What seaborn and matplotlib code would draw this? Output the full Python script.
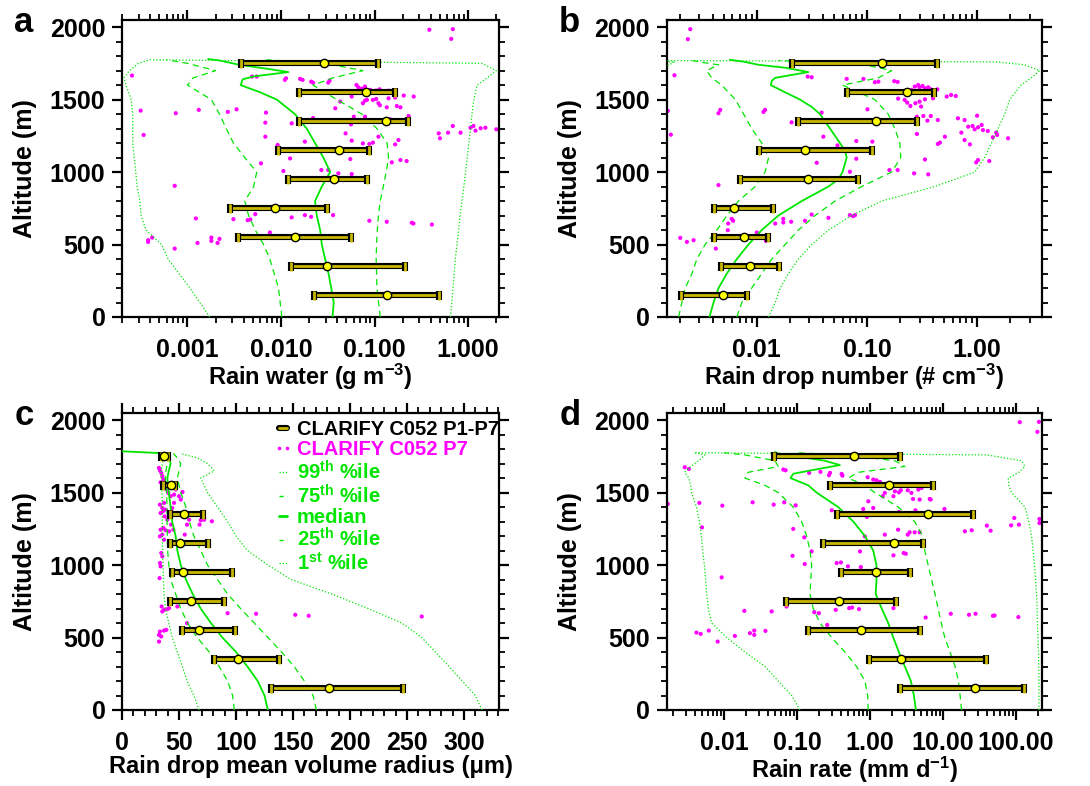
import numpy as np
import pandas as pd
import seaborn as sns
import matplotlib.pyplot as plt
import matplotlib.patheffects as pe
from matplotlib.lines import Line2D
from matplotlib.ticker import FixedLocator, MultipleLocator, FormatStrFormatter, LogLocator, NullFormatter

# ---- binned aircraft data (CLARIFY C052 P1-P7): 25th / median / 75th per altitude bin
bin_alt = [150, 350, 550, 750, 950, 1150, 1350, 1550, 1750]

rw_lo = [0.0224, 0.0128, 0.00346, 0.00286, 0.0120, 0.0092, 0.0157, 0.0157, 0.0037]
rw_mid = [0.1346, 0.0313, 0.0140, 0.00855, 0.037, 0.0415, 0.133, 0.080, 0.0289]
rw_hi = [0.486, 0.209, 0.0562, 0.0311, 0.0828, 0.0877, 0.226, 0.164, 0.110]

nd_lo = [0.00206, 0.00472, 0.00413, 0.00405, 0.00711, 0.0104, 0.0239, 0.0655, 0.0207]
nd_mid = [0.00489, 0.0087, 0.00768, 0.00623, 0.029, 0.0274, 0.121, 0.232, 0.138]
nd_hi = [0.00817, 0.016, 0.0126, 0.0141, 0.0834, 0.112, 0.286, 0.408, 0.43]

rv_lo = [130.9, 80.9, 52.9, 41.8, 44.1, 41.8, 41.8, 36.2, 34.0]
rv_mid = [181.8, 101.8, 67.9, 60.3, 53.8, 50.9, 54.4, 42.6, 37.0]
rv_hi = [246.8, 137.6, 99.1, 89.7, 96.2, 75.0, 70.6, 46.2, 40.0]

rr_lo = [2.58, 0.968, 0.140, 0.0706, 0.401, 0.230, 0.349, 0.283, 0.0489]
rr_mid = [27.4, 2.66, 0.753, 0.376, 1.20, 2.13, 6.17, 1.84, 0.604]
rr_hi = [129, 38.4, 4.84, 2.25, 3.53, 5.26, 26.1, 7.21, 2.58]

# ---- model percentile profiles
rw_med_alt = [0, 100, 200, 300, 400, 500, 600, 700, 800, 900, 1000, 1100, 1200,
              1300, 1400, 1500, 1550, 1600, 1640, 1660, 1690, 1710, 1740, 1770, 1780]
rw_med = [0.0355, 0.0366, 0.0344, 0.0322, 0.0296, 0.0273, 0.0262, 0.0241, 0.0231,
          0.0273, 0.0335, 0.0284, 0.0231, 0.0188, 0.0141, 0.0090, 0.0060, 0.0037,
          0.0039, 0.0051, 0.012, 0.0076, 0.0036, 0.0022, 0.00166]
rw_pct_alt = [0, 200, 400, 500, 600, 700, 800, 900, 1000, 1100, 1200, 1300, 1400,
              1500, 1600, 1650, 1700, 1750, 1775]
rw_p01 = [0.00173, 0.00106, 0.00062, 0.00053, 0.00036, 0.00032, 0.00031, 0.00029,
          0.00028, 0.00027, 0.00026, 0.00026, 0.00026, 0.00025, 0.00022, 0.00021,
          0.00024, 0.0003, 0.0004]
rw_p25 = [0.0102, 0.0094, 0.0076, 0.0065, 0.0053, 0.0045, 0.0041, 0.0051, 0.0055,
          0.0041, 0.0031, 0.0026, 0.0022, 0.0018, 0.0010, 0.00115, 0.0020, 0.0010, 0.0006]
rw_p75 = [0.115, 0.106, 0.104, 0.105, 0.107, 0.110, 0.115, 0.124, 0.133, 0.141,
          0.136, 0.106, 0.073, 0.0395, 0.022, 0.036, 0.075, 0.03, 0.007]
rw_p99 = [0.647, 0.69, 0.73, 0.76, 0.79, 0.82, 0.86, 0.90, 0.94, 0.98, 1.02, 1.06,
          1.10, 1.15, 1.25, 1.6, 2.0, 1.4, 0.0004]

nd_med_alt = [0, 100, 200, 300, 400, 500, 600, 700, 800, 900, 950, 1000, 1100, 1150,
              1200, 1300, 1400, 1450, 1500, 1550, 1600, 1630, 1650, 1670, 1690, 1720,
              1740, 1760, 1775]
nd_med = [0.00372, 0.00405, 0.0045, 0.00535, 0.00659, 0.0084, 0.0111, 0.0157, 0.0256,
          0.0447, 0.055, 0.060, 0.0655, 0.063, 0.0569, 0.0462, 0.0375, 0.0315, 0.0247,
          0.0181, 0.0134, 0.0137, 0.0147, 0.0207, 0.0294, 0.0181, 0.0104, 0.0078, 0.0057]
nd_pct_alt = [0, 100, 200, 300, 400, 500, 600, 700, 800, 900, 1000, 1100, 1200, 1300,
              1400, 1500, 1600, 1650, 1700, 1740, 1760, 1770]
nd_p01 = [0.0004, 0.0004, 0.0005, 0.0005, 0.0005, 0.0006, 0.0006, 0.0006, 0.0007,
          0.0007, 0.0008, 0.0008, 0.0008, 0.0009, 0.0009, 0.0010, 0.0010, 0.0011,
          0.0012, 0.0016, 0.0018, 0.001]
nd_p25 = [0.00195, 0.00209, 0.00224, 0.00258, 0.00286, 0.0034, 0.00434, 0.00535,
          0.00682, 0.00966, 0.0119, 0.0128, 0.0111, 0.0090, 0.0076, 0.0064, 0.0048,
          0.0039, 0.0035, 0.0045, 0.003, 0.0026]
nd_p75 = [0.00659, 0.00731, 0.0090, 0.0111, 0.0137, 0.0181, 0.0239, 0.0338, 0.0513,
          0.0895, 0.1675, 0.203, 0.199, 0.179, 0.156, 0.118, 0.06, 0.127, 0.1675,
          0.0962, 0.03, 0.0157]
nd_p99 = [0.0128, 0.0147, 0.0163, 0.0194, 0.0239, 0.0315, 0.0447, 0.0726, 0.136,
          0.413, 0.953, 1.17, 1.35, 1.55, 1.78, 1.98, 2.5, 3.1, 3.7, 2.7, 1.5, 0.001]

rv_pct_alt = [0, 100, 200, 300, 400, 500, 600, 700, 800, 900, 1000, 1100, 1200, 1300,
              1400, 1500, 1600, 1650, 1700, 1740, 1770]
rv_med_alt = rv_pct_alt + [1785]
rv_med = [127.9, 125, 119, 110, 100, 88, 78, 69, 62, 56, 51.5, 48.5, 47, 44, 42.6,
          41, 39.7, 41, 42.6, 41, 39.7, 0]
rv_p01 = [67.6, 63, 57, 53, 48.5, 44, 41, 38, 36.8, 36.3, 35.9, 35.6, 35.3, 35.3,
          35.3, 35, 34.4, 34.4, 35.3, 36.8, 38]
rv_p25 = [98.5, 97, 92.6, 85.3, 76.5, 66, 57.4, 51.5, 47, 42.6, 41, 40, 39.7, 39.5,
          39.5, 39, 38, 38.5, 39.7, 41, 42]
rv_p75 = [170.6, 167.6, 160, 151, 140, 128, 116, 104, 92.6, 83.8, 75, 69, 63, 59, 56,
          51.5, 48.5, 50, 51.5, 48.5, 45]
rv_p99 = [316, 310, 298.5, 287, 275, 263, 245.6, 216, 184, 148.5, 128, 110, 100,
          92.6, 83.8, 75, 69, 81, 75, 66, 51]

rr_med_alt = [0, 100, 200, 300, 400, 500, 600, 700, 800, 900, 1000, 1100, 1200, 1300,
              1400, 1500, 1550, 1600, 1630, 1650, 1690, 1720, 1750, 1770, 1780]
rr_med = [4.27, 4.0, 3.64, 3.01, 2.49, 2.09, 1.78, 1.45, 1.20, 1.23, 1.23, 1.11, 0.855,
          0.592, 0.368, 0.186, 0.143, 0.0818, 0.089, 0.143, 0.388, 0.24, 0.1, 0.0555, 0.05]
rr_pct_alt = [0, 100, 200, 300, 400, 500, 600, 700, 800, 900, 1000, 1100, 1200, 1300,
              1400, 1500, 1550, 1600, 1640, 1680, 1720, 1760, 1775]
rr_p01 = [0.11, 0.0847, 0.0555, 0.0365, 0.0194, 0.0109, 0.0068, 0.0061, 0.0058, 0.0056,
          0.0054, 0.0051, 0.0049, 0.0046, 0.0042, 0.0036, 0.0035, 0.0033, 0.0029,
          0.0035, 0.0045, 0.0055, 0.004]
rr_p25 = [0.948, 0.93, 0.855, 0.656, 0.455, 0.299, 0.207, 0.167, 0.151, 0.155, 0.159,
          0.151, 0.136, 0.116, 0.089, 0.0555, 0.0365, 0.0194, 0.0215, 0.0555, 0.05,
          0.0194, 0.01]
rr_p75 = [18.0, 17.2, 16.3, 14.7, 12.5, 10.6, 9.5, 8.6, 7.8, 7.0, 6.27, 5.65, 5.3, 4.1,
          2.44, 1.17, 0.855, 0.505, 0.69, 3.01, 2.2, 0.455, 0.1]
rr_p99 = [207, 207, 207, 206, 204, 200, 197, 195, 192, 186, 180, 172, 164, 150, 133,
          87, 80, 78.5, 110, 133, 120, 40, 0.004]

# ---- P7 profile points
rw_pts_x = [0.385, 0.686, 0.66, 0.000255, 0.0049, 0.0055, 0.011, 0.0113, 0.016, 0.017,
            0.021, 0.022, 0.032, 0.033, 0.064, 0.067, 0.073, 0.079, 0.090, 0.104,
            0.113, 0.141, 0.205, 0.262, 0.166, 0.141, 0.096, 0.079, 0.075, 0.083,
            0.104, 0.110, 0.135, 0.173, 0.189, 0.114, 0.057, 0.043, 0.038, 0.00335,
            0.00132, 0.000316, 0.00075, 0.0069, 0.0027, 0.060, 0.022, 0.0068, 0.013, 0.056,
            0.079, 0.231, 0.147, 0.205, 0.686, 0.485, 0.50, 0.61, 0.83, 1.06,
            1.20, 1.36, 1.53, 2.0, 1.14, 0.00034, 0.0068, 0.049, 0.110, 0.0092,
            0.018, 0.057, 0.075, 0.088, 0.096, 0.166, 0.18, 0.0125, 0.0061, 0.055,
            0.189, 0.22, 0.153, 0.0106, 0.027, 0.032, 0.041, 0.057, 0.00073, 0.0031,
            0.00123, 0.0044, 0.0047, 0.0053, 0.013, 0.018, 0.021, 0.036, 0.088, 0.135,
            0.25, 0.26, 0.41, 0.0076, 0.00038, 0.00042, 0.00038, 0.00128, 0.0018, 0.0018,
            0.0021, 0.0022, 0.00073]
rw_pts_alt = [1982, 1986, 1919, 1666, 1659, 1659, 1636, 1647, 1643, 1636,
              1624, 1617, 1617, 1631, 1601, 1585, 1576, 1590, 1567, 1562,
              1571, 1562, 1528, 1521, 1514, 1509, 1498, 1493, 1475, 1498,
              1504, 1475, 1447, 1456, 1447, 1461, 1521, 1486, 1440, 1433,
              1429, 1424, 1406, 1410, 1415, 1382, 1373, 1341, 1336, 1329,
              1382, 1387, 1364, 1359, 1318, 1267, 1233, 1272, 1272, 1306,
              1286, 1302, 1306, 1295, 1318, 1256, 1244, 1267, 1244, 1187,
              1210, 1217, 1198, 1194, 1203, 1191, 1221, 1094, 1060, 1090,
              1083, 1076, 1067, 1007, 1014, 1014, 991, 986, 905, 675,
              680, 668, 673, 710, 687, 703, 691, 703, 664, 657,
              650, 645, 638, 583, 530, 548, 518, 511, 548, 525,
              511, 539, 472]

nd_pts_x = [0.00249, 0.00237, 0.00179, 0.00156, 0.00166, 0.00466, 0.00449, 0.0119, 0.0115, 0.029,
            0.0315, 0.0655, 0.093, 0.118, 0.127, 0.177, 0.19, 0.272, 0.292, 0.30,
            0.32, 0.336, 0.36, 0.38, 0.436, 0.254, 0.229, 0.192, 0.22, 0.232,
            0.248, 0.275, 0.31, 0.30, 0.336, 0.398, 0.53, 0.58, 0.64, 0.101,
            0.284, 0.325, 0.38, 0.44, 0.354, 0.67, 0.77, 1.0, 0.83, 0.91,
            0.95, 1.02, 1.1, 1.13, 0.72, 0.77, 0.86, 1.25, 1.49, 1.52,
            1.39, 1.91, 0.51, 0.46, 0.44, 0.284, 0.0402, 0.054, 0.08, 0.112,
            0.0207, 0.0991, 0.0388, 1.02, 0.98, 1.29, 0.336, 0.16, 0.19, 0.268,
            0.36, 0.035, 0.08, 0.07, 0.00449, 0.00202, 0.00232, 0.00267, 0.00425, 0.0055,
            0.00592, 0.0061, 0.00546, 0.0100, 0.0121, 0.0147, 0.0174, 0.0174, 0.0205, 0.0274,
            0.0315, 0.0447, 0.07, 0.075, 0.078]
nd_pts_alt = [1986, 1917, 1668, 1422, 1258, 1429, 1406, 1429, 1415, 1659,
              1654, 1643, 1643, 1620, 1624, 1627, 1622, 1590, 1601, 1585,
              1594, 1578, 1585, 1571, 1571, 1567, 1562, 1507, 1498, 1479,
              1456, 1475, 1452, 1486, 1502, 1509, 1521, 1532, 1525, 1433,
              1382, 1387, 1387, 1359, 1355, 1371, 1359, 1389, 1313, 1318,
              1295, 1309, 1325, 1290, 1272, 1221, 1191, 1283, 1272, 1256,
              1240, 1233, 1244, 1203, 1194, 1263, 1244, 1184, 1214, 1210,
              1343, 1348, 1410, 1083, 1067, 1076, 1087, 1014, 1014, 991,
              984, 1064, 1092, 1002, 910, 546, 518, 530, 472, 645,
              677, 664, 599, 583, 525, 645, 677, 652, 657, 664,
              707, 684, 703, 696, 703]

rv_pts_x = [92.6, 117.6, 152, 163.8, 263, 78.8, 68, 72, 69, 57,
            58.8, 53, 45.6, 51.5, 55, 57, 32.4, 33.2, 34.4, 35.3,
            36.2, 33.8, 37.4, 39, 40.6, 42.6, 36.8, 33.2, 35.3, 38.2,
            35.9, 33.8, 37.4, 39.7, 43, 36.2, 33.8, 38.2, 41.2, 45,
            35.3, 33.2, 36.8, 34.4, 35.3, 33.2, 33.8, 32.9, 34.7, 36.8,
            35.3, 39.7, 41.2, 33.2, 32.4, 36.8, 38.8, 32.4, 34.4, 48.5,
            44, 45.6, 47, 50]
rv_pts_alt = [668, 664, 657, 650, 645, 1302, 1279, 1313, 1309, 1279,
              1313, 1504, 1486, 1452, 1210, 599, 1670, 1654, 1636, 1613,
              1590, 1571, 1555, 1521, 1498, 1475, 1429, 1417, 1394, 1382,
              1371, 1359, 1336, 1313, 1279, 1256, 1244, 1240, 1233, 1244,
              1210, 1198, 1175, 1083, 1060, 1014, 991, 910, 714, 691,
              680, 696, 703, 541, 518, 548, 553, 472, 507, 714,
              1394, 1429, 1521, 1475]

rr_pts_x = [113, 207, 197, 0.0029, 0.0033, 0.065, 0.070, 0.147, 0.21, 0.284,
            0.275, 0.41, 0.42, 0.93, 1.11, 1.23, 1.37, 1.98, 1.6, 2.2,
            2.5, 2.65, 3.3, 3.7, 4.6, 5.1, 2.1, 1.5, 0.95, 3.9,
            4.8, 6.6, 6.8, 0.0017, 0.0046, 0.0095, 0.0247, 0.048, 0.067, 0.096,
            0.30, 0.81, 1.11, 0.91, 2.5, 4.2, 10.5, 95, 86, 110,
            210, 210, 40, 45, 20, 24.8, 0.0050, 0.089, 0.126, 0.85,
            1.6, 2.43, 3.3, 3.5, 4.1, 4.8, 0.159, 0.087, 0.73, 2.1,
            2.9, 3.1, 0.128, 0.35, 0.40, 0.50, 0.75, 0.0093, 0.0190, 0.045,
            0.072, 0.173, 0.20, 0.34, 0.52, 0.57, 0.71, 2.1, 5.8, 12.8,
            22.8, 28, 48.5, 51, 108, 0.26, 0.0042, 0.0048, 0.0062, 0.0082,
            0.0141, 0.0227, 0.026, 0.026, 0.037]
rr_pts_alt = [1986, 1988, 1919, 1675, 1663, 1659, 1654, 1636, 1643, 1636,
              1620, 1629, 1617, 1606, 1590, 1585, 1574, 1555, 1498, 1509,
              1502, 1516, 1516, 1498, 1521, 1532, 1475, 1475, 1440, 1456,
              1452, 1456, 1452, 1422, 1429, 1410, 1433, 1417, 1433, 1412,
              1378, 1387, 1394, 1332, 1366, 1378, 1387, 1325, 1274, 1279,
              1318, 1290, 1272, 1237, 1233, 1240, 1260, 1249, 1191, 1198,
              1210, 1244, 1210, 1226, 1226, 1226, 1094, 1064, 1094, 1067,
              1083, 1078, 1007, 1014, 1018, 991, 986, 915, 684, 680,
              714, 675, 668, 691, 703, 707, 696, 703, 638, 664,
              657, 664, 650, 652, 641, 587, 534, 525, 548, 472,
              511, 530, 548, 518, 546]

GREEN = '#00e600'
MAGENTA = '#ff00ff'
BAR = '#c8b800'
FS = 18

sns.set_style('ticks', {'axes.edgecolor': 'black', 'xtick.color': 'black',
                        'ytick.color': 'black', 'text.color': 'black',
                        'axes.labelcolor': 'black'})
plt.rcParams['font.family'] = ['Liberation Sans', 'DejaVu Sans']
plt.rcParams['font.weight'] = 'bold'
plt.rcParams['mathtext.fontset'] = 'custom'
plt.rcParams['mathtext.bf'] = 'Liberation Sans:bold'
plt.rcParams['mathtext.rm'] = 'Liberation Sans:bold'
plt.rcParams['mathtext.default'] = 'bf'
plt.rcParams['axes.linewidth'] = 1.6

DOT = (0, (1, 1.6))
DASH = (0, (5, 3.5))


def draw_panel(ax, log, pct_alt, p01, p25, p75, p99, med_alt, med,
               pts_x, pts_alt, lo, mid, hi):
    if log:
        ax.set_xscale('log')
    sns.scatterplot(x=pts_x, y=pts_alt, color=MAGENTA, s=9, edgecolor='none',
                    linewidth=0, ax=ax, zorder=2)
    for vals, ls in [(p01, DOT), (p99, DOT), (p25, DASH), (p75, DASH)]:
        sns.lineplot(x=vals, y=pct_alt, orient='y', sort=False, estimator=None,
                     color=GREEN, lw=0.9, linestyle=ls, ax=ax, zorder=3)
    sns.lineplot(x=med, y=med_alt, orient='y', sort=False, estimator=None,
                 color=GREEN, lw=1.3, ax=ax, zorder=3)
    mid = np.array(mid)
    err = [mid - np.array(lo), np.array(hi) - mid]
    stroke = [pe.Stroke(linewidth=4.4, foreground='black'), pe.Normal()]
    _, caps, bars = ax.errorbar(mid, bin_alt, xerr=err, fmt='none', ecolor=BAR,
                                elinewidth=2.0, capsize=3.4, capthick=2.0, zorder=4)
    for b in bars:
        b.set_path_effects(stroke)
    for c in caps:
        c.set_path_effects(stroke)
    ax.plot(mid, bin_alt, 'o', ms=6, mfc='#ffff00', mec='black', mew=1.0, zorder=5)

    ax.set_ylim(0, 2050)
    ax.yaxis.set_major_locator(MultipleLocator(500))
    ax.yaxis.set_minor_locator(MultipleLocator(100))
    ax.tick_params(which='both', direction='out', top=True, right=True,
                   labeltop=False, labelright=False, labelsize=FS, colors='black')
    ax.tick_params(which='major', length=7, width=1.6)
    ax.tick_params(which='minor', length=4, width=1.3)
    ax.tick_params(axis='x', pad=8)
    ax.tick_params(axis='y', pad=5)
    ax.set_ylabel('Altitude (m)', fontsize=FS, fontweight='bold')
    ax.yaxis.set_label_coords(-0.225, 0.5)


def log_ticks(ax, majors, fmt):
    ax.xaxis.set_major_locator(FixedLocator(majors))
    ax.xaxis.set_major_formatter(FormatStrFormatter(fmt))
    ax.xaxis.set_minor_locator(LogLocator(base=10, subs=np.arange(2, 10), numticks=20))
    ax.xaxis.set_minor_formatter(NullFormatter())


fig = plt.figure(figsize=(10.9, 7.86), dpi=100)
ax_a = fig.add_axes([0.112, 0.5967, 0.346, 0.378])
ax_b = fig.add_axes([0.6116, 0.5967, 0.344, 0.378])
ax_c = fig.add_axes([0.112, 0.0967, 0.346, 0.378])
ax_d = fig.add_axes([0.6116, 0.0967, 0.344, 0.378])

XFS = 17
draw_panel(ax_a, True, rw_pct_alt, rw_p01, rw_p25, rw_p75, rw_p99, rw_med_alt, rw_med,
           rw_pts_x, rw_pts_alt, rw_lo, rw_mid, rw_hi)
ax_a.set_xlim(2e-4, 2.15)
log_ticks(ax_a, [0.001, 0.01, 0.1, 1.0], '%.3f')
ax_a.set_xlabel('Rain water (g m$^{-3}$)', fontsize=XFS, fontweight='bold')

draw_panel(ax_b, True, nd_pct_alt, nd_p01, nd_p25, nd_p75, nd_p99, nd_med_alt, nd_med,
           nd_pts_x, nd_pts_alt, nd_lo, nd_mid, nd_hi)
ax_b.set_xlim(1.52e-3, 3.85)
log_ticks(ax_b, [0.01, 0.1, 1.0], '%.2f')
ax_b.set_xlabel('Rain drop number (# cm$^{-3}$)', fontsize=XFS, fontweight='bold')

draw_panel(ax_c, False, rv_pct_alt, rv_p01, rv_p25, rv_p75, rv_p99, rv_med_alt, rv_med,
           rv_pts_x, rv_pts_alt, rv_lo, rv_mid, rv_hi)
ax_c.set_xlim(0, 331)
ax_c.xaxis.set_major_locator(MultipleLocator(50))
ax_c.xaxis.set_minor_locator(MultipleLocator(10))
ax_c.set_xlabel('Rain drop mean volume radius (\u03bcm)', fontsize=XFS, fontweight='bold')

draw_panel(ax_d, True, rr_pct_alt, rr_p01, rr_p25, rr_p75, rr_p99, rr_med_alt, rr_med,
           rr_pts_x, rr_pts_alt, rr_lo, rr_mid, rr_hi)
ax_d.set_xlim(1.64e-3, 225)
log_ticks(ax_d, [0.01, 0.1, 1.0, 10.0, 100.0], '%.2f')
ax_d.set_xlabel('Rain rate (mm d$^{-1}$)', fontsize=XFS, fontweight='bold')

for ax in [ax_a, ax_b, ax_c, ax_d]:
    ax.xaxis.set_label_coords(0.5, -0.152)
    for lab in ax.get_xticklabels() + ax.get_yticklabels():
        lab.set_fontweight('bold')

# legend in panel c
LEG_DASH = (0, (3, 2.6))
stroke = [pe.Stroke(linewidth=4.4, foreground='black'), pe.Normal()]
handles = [
    Line2D([], [], color=BAR, lw=2.0, path_effects=stroke),
    Line2D([], [], ls='none', marker='o', ms=2.6, color=MAGENTA, mec='none'),
    Line2D([], [], color=GREEN, lw=0.9, ls=DOT),
    Line2D([], [], color=GREEN, lw=1.0, ls=LEG_DASH),
    Line2D([], [], color=GREEN, lw=2.0),
    Line2D([], [], color=GREEN, lw=1.0, ls=LEG_DASH),
    Line2D([], [], color=GREEN, lw=0.9, ls=DOT),
]
labels = ['CLARIFY C052 P1-P7', 'CLARIFY C052 P7', '99$^{th}$ %ile', '75$^{th}$ %ile',
          'median', '25$^{th}$ %ile', '1$^{st}$ %ile']
ax_c.legend(handles, labels, loc='upper left', bbox_to_anchor=(0.40, 0.975),
            frameon=False, prop={'size': 14.5, 'weight': 'bold'}, handlelength=1.0,
            handletextpad=0.2, labelspacing=0.04, borderpad=0, borderaxespad=0,
            numpoints=2, labelcolor=['black', MAGENTA, GREEN, GREEN, GREEN, GREEN, GREEN])

for letter, x, y in [('a', 0.013, 0.959), ('b', 0.513, 0.959), ('c', 0.013, 0.459), ('d', 0.513, 0.459)]:
    fig.text(x, y, letter, fontsize=25, fontweight='bold', va='baseline', ha='left')

fig.savefig('out.png', dpi=100)
